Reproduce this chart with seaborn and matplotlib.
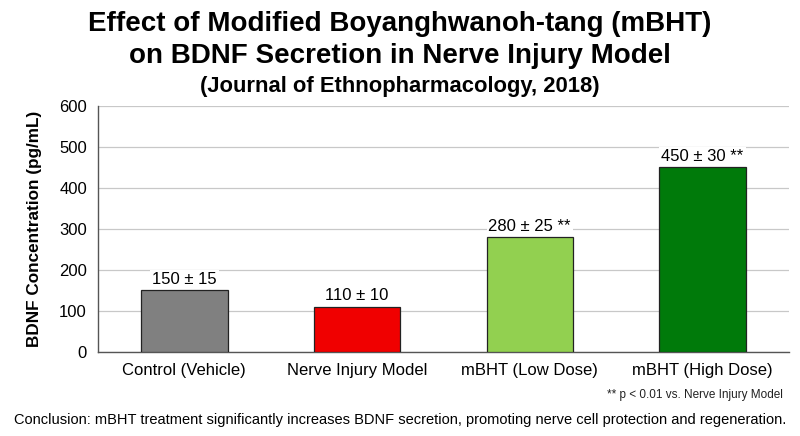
import matplotlib
matplotlib.use("Agg")
import matplotlib.pyplot as plt
import seaborn as sns
import pandas as pd

categories = ["Control (Vehicle)", "Nerve Injury Model", "mBHT (Low Dose)", "mBHT (High Dose)"]
means = [150, 110, 280, 450]
sems = [15, 10, 25, 30]
sig = ["", "", " **", " **"]
colors = ["#808080", "#f00000", "#92d050", "#007a0a"]
yticks = [0, 100, 200, 300, 400, 500, 600]

sns.set_style("white")
plt.rcParams["font.family"] = ["Liberation Sans", "DejaVu Sans"]
plt.rcParams["text.color"] = "black"
plt.rcParams["xtick.color"] = "black"
plt.rcParams["ytick.color"] = "black"
plt.rcParams["axes.labelcolor"] = "black"

df = pd.DataFrame({"Group": categories, "BDNF": means})

fig = plt.figure(figsize=(8, 4.36), dpi=100)
ax = fig.add_axes([0.1225, 0.193, 0.8635, 0.564])

sns.barplot(data=df, x="Group", y="BDNF", hue="Group", palette=colors,
            legend=False, width=0.5, edgecolor="#222222", linewidth=0.9,
            saturation=1, ax=ax, zorder=3)

ax.set_ylim(0, 600)
ax.set_yticks(yticks)
ax.yaxis.grid(True, color="#c8c8c8", linewidth=0.9, zorder=0)
ax.set_axisbelow(True)
ax.set_xlim(-0.5, len(categories) - 0.5)

for s in ["top", "right"]:
    ax.spines[s].set_visible(False)
for s in ["left", "bottom"]:
    ax.spines[s].set_color("#555555")
    ax.spines[s].set_linewidth(1.0)

# category boundary ticks
ax.set_xticks([i - 0.5 for i in range(len(categories) + 1)], minor=True)
ax.tick_params(axis="x", which="minor", length=5, color="#555555", width=1)
ax.tick_params(axis="x", which="major", length=0, labelsize=12, pad=8)
ax.tick_params(axis="y", length=5, color="#555555", labelsize=12, pad=3)

ax.set_xlabel("")
ax.set_ylabel("BDNF Concentration (pg/mL)", fontsize=12.3, fontweight="bold", labelpad=12)

for i, (m, s, g) in enumerate(zip(means, sems, sig)):
    ax.text(i, m + 8, f"{m} \u00b1 {s}{g}", ha="center", va="bottom", fontsize=12,
            zorder=4, bbox=dict(facecolor="white", edgecolor="none", pad=1.5))

fig.text(0.5, 0.946, "Effect of Modified Boyanghwanoh-tang (mBHT)", ha="center", va="center",
         fontsize=20, fontweight="bold")
fig.text(0.5, 0.871, "on BDNF Secretion in Nerve Injury Model", ha="center", va="center",
         fontsize=20, fontweight="bold")
fig.text(0.5, 0.801, "(Journal of Ethnopharmacology, 2018)", ha="center", va="center",
         fontsize=15.8, fontweight="bold")

fig.text(0.979, 0.094, "** p < 0.01 vs. Nerve Injury Model", ha="right", va="center", fontsize=8.5,
         color="#222222")
fig.text(0.5, 0.037, "Conclusion: mBHT treatment significantly increases BDNF secretion, promoting nerve cell protection and regeneration.",
         ha="center", va="center", fontsize=10.5)

fig.savefig("out.png", dpi=100)
